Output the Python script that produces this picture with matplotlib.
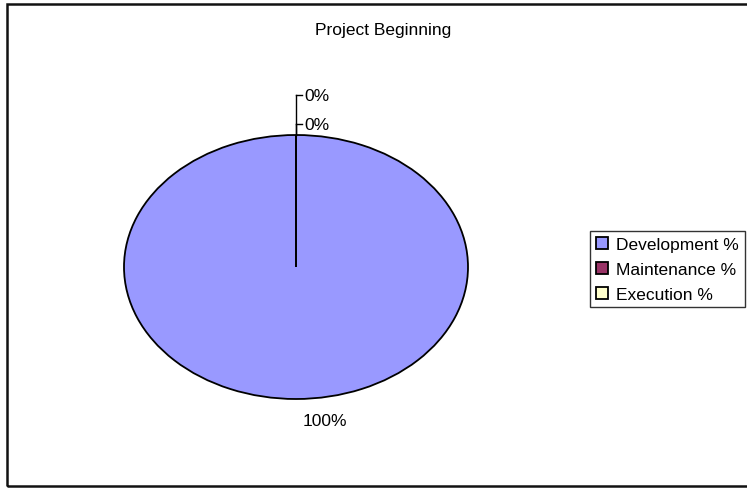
import numpy as np
import matplotlib.pyplot as plt
from matplotlib.patches import Rectangle

plt.rcParams['font.family'] = ['Liberation Sans', 'DejaVu Sans']

categories = ['Development %', 'Maintenance %', 'Execution %']
values = [100, 0, 0]
colors = ['#9999FF', '#993366', '#FFFFCC']
title = 'Project Beginning'

W, H = 747, 489
fig = plt.figure(figsize=(W/100, H/100), dpi=100)

# outer chart border (right side runs off the picture)
fig.patches.append(Rectangle((7/W, 1 - 487/H), 1.05, (487 - 5)/H,
                             transform=fig.transFigure, fill=False,
                             edgecolor='#111111', linewidth=1.8, clip_on=False))

fig.text(383/W, 1 - 30/H, title, ha='center', va='center', fontsize=12.5)

# pie box in pixels: x 124..468, y 136..400 (stretched ellipse)
ax = fig.add_axes([124/W, 1 - 400/H, 344/W, 264/H])
wedges, _ = ax.pie(values, colors=colors, startangle=90, counterclock=False,
                   wedgeprops=dict(edgecolor='black', linewidth=1.3))
ax.set_aspect('auto')
ax.set_xlim(-1, 1)
ax.set_ylim(-1, 1)
ax.axis('off')

total = sum(values)
# zero slices get stacked leader labels above the top of the pie
zero_y = [1.083, 1.303]
k = 0
for w, v in zip(wedges, values):
    pct = '%d%%' % round(100 * v / total)
    ang = np.deg2rad((w.theta1 + w.theta2) / 2)
    if v == 0:
        x0, y0 = np.cos(ang), np.sin(ang)
        yl = zero_y[k]
        ax.plot([x0, x0], [y0, yl], color='black', lw=1, clip_on=False)
        ax.plot([x0, x0 + 0.035], [yl, yl], color='black', lw=1, clip_on=False)
        ax.text(x0 + 0.05, yl, pct, ha='left', va='center', fontsize=12.5)
        k += 1
    else:
        ax.text(np.cos(ang) * 1.15 + 0.17, np.sin(ang) * 1.16, pct,
                ha='center', va='center', fontsize=12.5)

leg = fig.legend(wedges, categories, loc='upper left',
                 bbox_to_anchor=(590/W, 1 - 232/H), fontsize=12.5,
                 frameon=True, fancybox=False, shadow=False,
                 handlelength=0.7, handleheight=0.7, handletextpad=0.5,
                 labelspacing=0.57, borderpad=0.32, borderaxespad=0)
leg.get_frame().set_edgecolor('black')
leg.get_frame().set_linewidth(1)

fig.savefig('out.png', dpi=100)
